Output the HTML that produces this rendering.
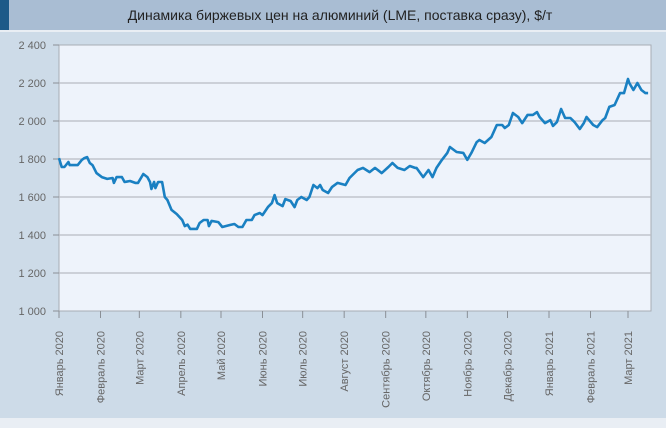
<!DOCTYPE html>
<html><head><meta charset="utf-8"><style>
body{margin:0;width:666px;height:423px;overflow:hidden;background:#e9eef4;font-family:"Liberation Sans",sans-serif}
</style></head><body>
<svg width="666" height="423" id="chart">
<rect x="0" y="0" width="666" height="30" fill="#a9bdd3"/>
<rect x="0" y="0" width="9" height="30" fill="#1d5a88"/>
<rect x="0" y="32" width="666" height="386" fill="#cddbe8"/>
<text x="340" y="20" text-anchor="middle" font-size="14" fill="#222">Динамика биржевых цен на алюминий (LME, поставка сразу), $/т</text>
<rect x="59" y="45" width="592" height="266" fill="#eef3fb" stroke="#a8adb5" stroke-width="1"/>
<g id="grid"></g><g id="yax"></g><g id="xax"></g>
<path id="line" fill="none" stroke="#1a80c2" stroke-width="2.6" stroke-linejoin="round"/>
</svg>
<script>
const yTicks=[1000,1200,1400,1600,1800,2000,2200,2400];
const yTickLabels=["1 000","1 200","1 400","1 600","1 800","2 000","2 200","2 400"];
const monthLabels=["Январь 2020","Февраль 2020","Март 2020","Апрель 2020","Май 2020","Июнь 2020","Июль 2020","Август 2020","Сентябрь 2020","Октябрь 2020","Ноябрь 2020","Декабрь 2020","Январь 2021","Февраль 2021","Март 2021"];
const monthDays=[0,31,60,91,121,152,182,213,244,274,305,335,366,397,425];
const days=[0,2,4,7,8,10,14,17,19,21,23,25,28,32,36,40,41,43,47,49,53,57,59,63,66,68,69,71,72,74,77,79,81,84,88,92,94,96,98,103,105,108,111,112,114,119,122,128,131,134,137,140,144,146,150,152,156,159,161,163,167,169,173,176,178,181,185,187,190,193,195,197,201,204,208,214,217,223,227,232,236,241,246,249,253,258,262,266,267,272,276,279,282,286,290,292,297,302,305,308,312,314,318,323,327,331,333,336,339,343,346,350,354,357,359,363,367,369,372,375,378,382,385,389,392,394,399,402,406,408,411,415,419,422,425,426,429,432,435,438,440];
const prices=[1805,1758,1758,1784,1768,1768,1768,1795,1805,1810,1779,1768,1726,1705,1695,1700,1674,1705,1705,1679,1684,1674,1674,1721,1705,1679,1642,1679,1647,1679,1679,1600,1584,1532,1510,1479,1447,1455,1432,1432,1463,1479,1479,1447,1474,1468,1442,1453,1458,1442,1442,1479,1479,1505,1516,1505,1547,1568,1610,1568,1552,1589,1579,1547,1584,1600,1584,1600,1663,1647,1663,1637,1621,1653,1674,1663,1700,1742,1753,1731,1753,1726,1758,1779,1753,1742,1763,1753,1753,1705,1742,1705,1753,1795,1832,1863,1837,1832,1795,1832,1889,1900,1884,1916,1979,1979,1963,1979,2042,2021,1989,2032,2032,2047,2021,1989,2005,1974,1995,2063,2016,2016,1995,1958,1989,2021,1979,1968,2005,2016,2074,2084,2147,2147,2221,2200,2163,2200,2163,2147,2147,2179];
const NS="http://www.w3.org/2000/svg";
const X0=59,X1=628,Y0=311,Y1=45;
const xs=d=>X0+(X1-X0)*d/425;
const ys=v=>Y0-(Y0-Y1)*(v-1000)/1400;
function mk(t,a,p){const e=document.createElementNS(NS,t);for(const k in a)e.setAttribute(k,a[k]);p.appendChild(e);return e;}
const grid=document.getElementById('grid'),yax=document.getElementById('yax'),xax=document.getElementById('xax');
yTicks.forEach((v,i)=>{const y=ys(v);
 if(i>0&&i<yTicks.length-1){const g=mk('line',{x1:59,x2:651,y1:y,y2:y,stroke:'#b9bcc3','stroke-width':1.3},grid);
 
 }
 const tk=mk('line',{x1:53,x2:59,y1:y,y2:y,stroke:'#8a8f96'},yax);
 
 
 const t=mk('text',{x:46,y:y+4,'text-anchor':'end','font-size':11,fill:'#666'},yax);t.textContent=yTickLabels[i];
 
 
});
monthDays.forEach((d,i)=>{const x=xs(d);
 const tk=mk('line',{x1:x,x2:x,y1:311,y2:318,stroke:'#8a8f96'},xax);
 
 
 const t=mk('text',{x:0,y:0,'text-anchor':'end','font-size':11,fill:'#666',transform:`translate(${x+4},${331}) rotate(-90)`},xax);t.textContent=monthLabels[i];
 
 
});
document.getElementById('line').setAttribute('d',days.map((d,i)=>(i?'L':'M')+xs(d).toFixed(1)+','+ys(prices[i]).toFixed(1)).join(''));
</script>
</body></html>
